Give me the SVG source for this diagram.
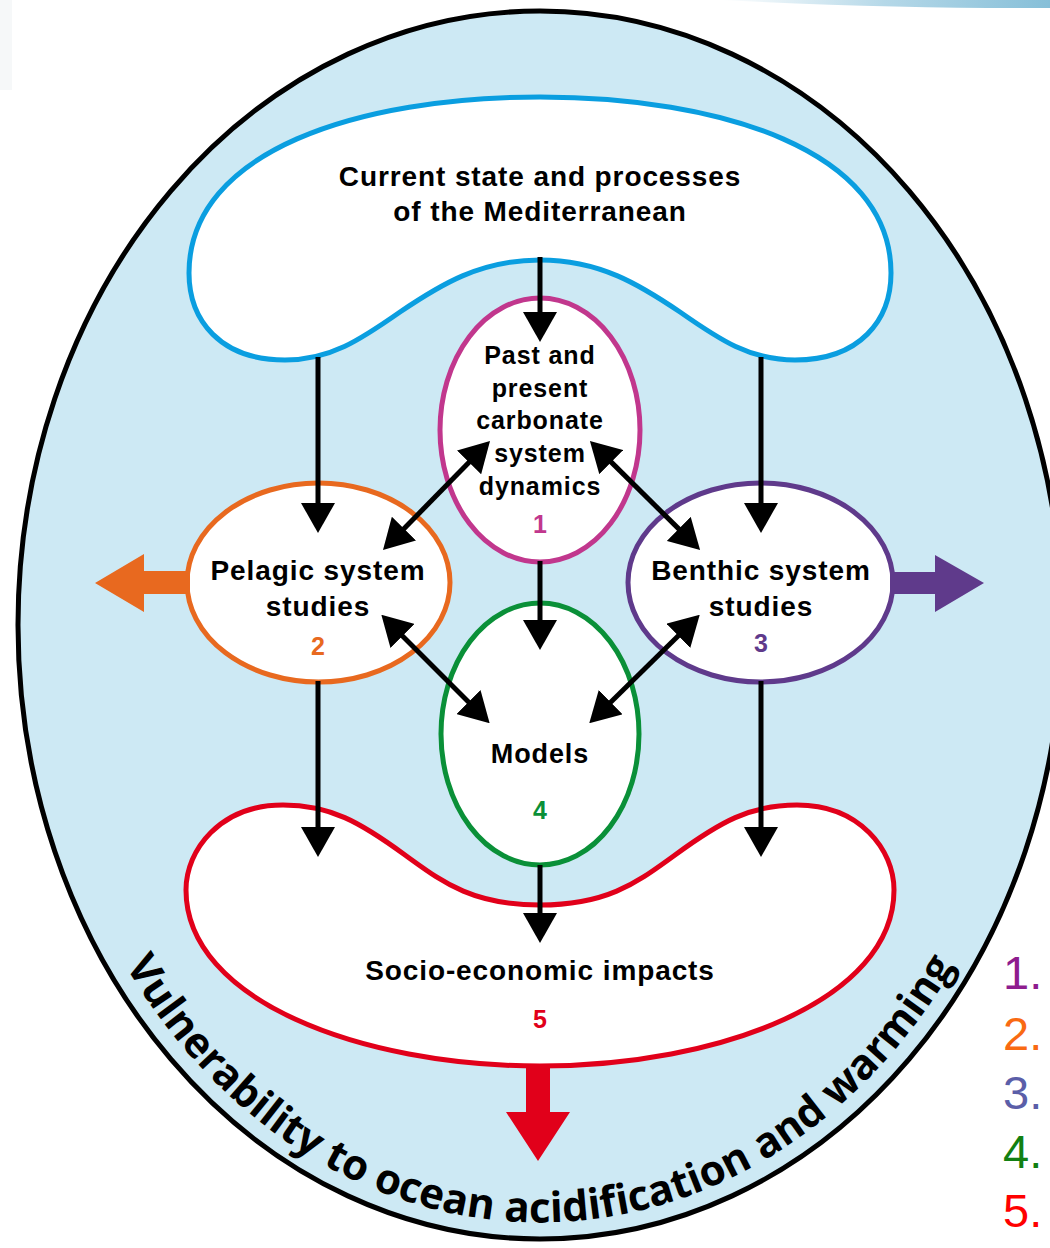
<svg xmlns="http://www.w3.org/2000/svg" width="1050" height="1248" viewBox="0 0 1050 1248">
<style>
.lbl{font-family:"Liberation Sans",Arial,sans-serif;font-weight:700;fill:#000;text-anchor:middle;letter-spacing:0.9px}
.num{font-family:"Liberation Sans",Arial,sans-serif;font-weight:700;text-anchor:middle;font-size:25px}
.list{font-family:"Liberation Sans",Arial,sans-serif;font-size:47px}
.node{fill:#fff;stroke-width:5}
.conn{stroke:#000;stroke-width:5;fill:none}
</style>
<defs>
<marker id="ah" viewBox="0 0 30 34" refX="5" refY="17" markerWidth="30" markerHeight="34" markerUnits="userSpaceOnUse" orient="auto-start-reverse">
<path d="M0,0 L30,17 L0,34 Z" fill="#000"/>
</marker>
<linearGradient id="band" x1="0" y1="0" x2="1" y2="0">
<stop offset="0" stop-color="#ffffff"/>
<stop offset="0.5" stop-color="#b5d8e8"/>
<stop offset="1" stop-color="#86bfd8"/>
</linearGradient>
<path id="arcText" d="M 66,829 A 504 596 0 0 0 1014,829"/>
</defs>
<rect width="1050" height="1248" fill="#fff"/>
<rect x="0" y="0" width="12" height="90" fill="#f6f8f9"/>
<path d="M720,0 L1050,0 L1050,8 Q900,9 720,0 Z" fill="url(#band)"/>

<g id="outer">
<ellipse cx="540" cy="625" rx="522" ry="614" fill="#cde9f4" stroke="#000" stroke-width="5"/>
</g>

<g id="node-current">
<path class="node" stroke="#0a9ee0" d="M540,260 C600,260 640,285 680,312 C720,340 750,360 795,360 C860,360 891,320 891,273 C891,150 720,97 540,97 C360,97 189,150 189,273 C189,320 220,360 285,360 C330,360 360,340 400,312 C440,285 480,260 540,260 Z"/>
<text class="lbl" font-size="28" x="540" y="186">Current state and processes</text>
<text class="lbl" font-size="28" x="540" y="221">of the Mediterranean</text>
</g>

<g id="node-socio">
<path class="node" stroke="#e1001a" stroke-width="4.5" d="M540,905 C470,905 440,880 405,855 C360,822 330,805 283,805 C220,805 186,850 186,890 C186,1000 360,1066 540,1066 C720,1066 894,1000 894,890 C894,850 860,805 797,805 C750,805 720,822 675,855 C640,880 610,905 540,905 Z"/>
<text class="lbl" font-size="28" x="540" y="980">Socio-economic impacts</text>
<text class="num" fill="#e1001a" x="540" y="1028">5</text>
</g>

<g id="node-past">
<ellipse class="node" stroke="#c1378d" cx="540" cy="430" rx="100" ry="132"/>
<text class="lbl" font-size="25" x="540" y="364">Past and</text>
<text class="lbl" font-size="25" x="540" y="397">present</text>
<text class="lbl" font-size="25" x="540" y="429">carbonate</text>
<text class="lbl" font-size="25" x="540" y="462">system</text>
<text class="lbl" font-size="25" x="540" y="495">dynamics</text>
<text class="num" fill="#c1378d" x="540" y="533">1</text>
</g>

<g id="node-models">
<ellipse class="node" stroke="#0a9038" cx="540" cy="734" rx="99" ry="131"/>
<text class="lbl" font-size="27" x="540" y="763">Models</text>
<text class="num" fill="#0a9038" x="540" y="819">4</text>
</g>

<g id="node-pelagic">
<ellipse class="node" stroke="#e8691f" cx="318.5" cy="582.5" rx="131.5" ry="99.5"/>
<text class="lbl" font-size="28" x="318" y="580">Pelagic system</text>
<text class="lbl" font-size="28" x="318" y="616">studies</text>
<text class="num" fill="#e8691f" x="318" y="655">2</text>
</g>

<g id="node-benthic">
<ellipse class="node" stroke="#5f3a8b" cx="760.5" cy="582.5" rx="132.5" ry="99.5"/>
<text class="lbl" font-size="28" x="761" y="580">Benthic system</text>
<text class="lbl" font-size="28" x="761" y="616">studies</text>
<text class="num" fill="#5f3a8b" x="761" y="652">3</text>
</g>

<g id="connectors">
<line class="conn" x1="540" y1="257" x2="540" y2="317" marker-end="url(#ah)"/>
<line class="conn" x1="318" y1="357" x2="318" y2="508" marker-end="url(#ah)"/>
<line class="conn" x1="761" y1="357" x2="761" y2="508" marker-end="url(#ah)"/>
<line class="conn" x1="540" y1="561" x2="540" y2="625" marker-end="url(#ah)"/>
<line class="conn" x1="318" y1="681" x2="318" y2="832" marker-end="url(#ah)"/>
<line class="conn" x1="761" y1="681" x2="761" y2="832" marker-end="url(#ah)"/>
<line class="conn" x1="540" y1="865" x2="540" y2="918" marker-end="url(#ah)"/>
<line class="conn" x1="400.5" y1="532.2" x2="472.5" y2="458.8" marker-start="url(#ah)" marker-end="url(#ah)"/>
<line class="conn" x1="607.7" y1="458.6" x2="682.3" y2="532.4" marker-start="url(#ah)" marker-end="url(#ah)"/>
<line class="conn" x1="399" y1="632.4" x2="472" y2="705.6" marker-start="url(#ah)" marker-end="url(#ah)"/>
<line class="conn" x1="681.9" y1="632.3" x2="607.1" y2="705.7" marker-start="url(#ah)" marker-end="url(#ah)"/>
<polygon fill="#e8691f" points="190,571 144,571 144,554 95,583 144,612 144,594 190,594"/>
<polygon fill="#5f3a8b" points="890,572 935,572 935,555 984,583 935,612 935,594 890,594"/>
<polygon fill="#e1001a" points="526,1066 550,1066 550,1112 570,1112 538,1161 506,1112 526,1112"/>
</g>

<g id="curved-title">
<text font-family="'Open Sans','DejaVu Sans',sans-serif" font-weight="700" font-size="42" fill="#000" text-anchor="middle"><textPath href="#arcText" startOffset="50%">Vulnerability to ocean acidification and warming</textPath></text>
</g>

<g id="legend">
<text class="list" fill="#8e1c8e" x="1003" y="989">1.</text>
<text class="list" fill="#f96a12" x="1003" y="1050">2.</text>
<text class="list" fill="#5b5ea8" x="1003" y="1109">3.</text>
<text class="list" fill="#128012" x="1003" y="1168">4.</text>
<text class="list" fill="#ff0000" x="1003" y="1227">5.</text>
</g>
</svg>
